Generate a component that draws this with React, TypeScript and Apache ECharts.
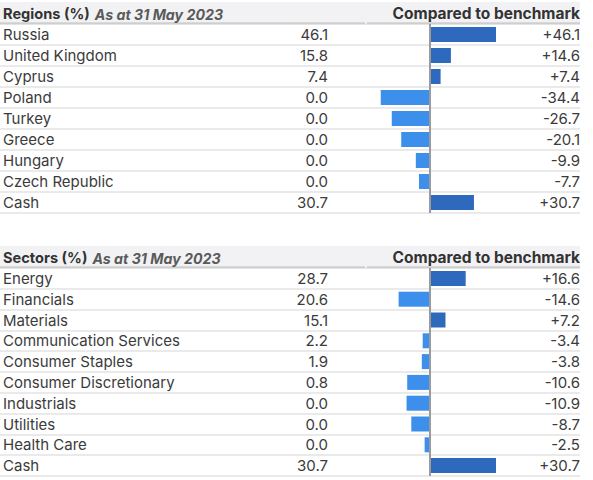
import React, { useEffect, useRef } from 'react';
import * as echarts from 'echarts';

const regionNames = ['Russia', 'United Kingdom', 'Cyprus', 'Poland', 'Turkey', 'Greece', 'Hungary', 'Czech Republic', 'Cash'];
const regionWeights = [46.1, 15.8, 7.4, 0.0, 0.0, 0.0, 0.0, 0.0, 30.7];
const regionRelative = [46.1, 14.6, 7.4, -34.4, -26.7, -20.1, -9.9, -7.7, 30.7];

const sectorNames = [
  'Energy',
  'Financials',
  'Materials',
  'Communication Services',
  'Consumer Staples',
  'Consumer Discretionary',
  'Industrials',
  'Utilities',
  'Health Care',
  'Cash',
];
const sectorWeights = [28.7, 20.6, 15.1, 2.2, 1.9, 0.8, 0.0, 0.0, 0.0, 30.7];
const sectorRelative = [16.6, -14.6, 7.2, -3.4, -3.8, -10.6, -10.9, -8.7, -2.5, 30.7];

const headerDate = 'As at 31 May 2023';
const headerRight = 'Compared to benchmark';

const FONT = 'Inter, "Liberation Sans", Arial, sans-serif';
const TEXT = '#3b3b3b';
const POS = '#2d69bc';
const NEG = '#3d8fec';

// layout (px, page coords)
const W = 593;
const TABLE_RIGHT = 580;
const ZERO_X = 430;
const BAR_MAX_PX = 66; // largest |value| of each table spans this
const LABEL_PAD = [6, 0, 0, 0]; // nudge row text a little below the row centre

function signed(v: number) {
  return (v > 0 ? '+' : '') + v.toFixed(1);
}

function buildTable(idx: number, names: string[], weights: number[], rel: number[], top: number, height: number) {
  const maxAbs = Math.max(...rel.map((v) => Math.abs(v)));
  const unit = maxAbs / BAR_MAX_PX;
  const grid = { left: 0, right: W - TABLE_RIGHT, top, height, containLabel: false };
  const xAxis = {
    type: 'value',
    gridIndex: idx,
    min: -ZERO_X * unit,
    max: (TABLE_RIGHT - ZERO_X) * unit,
    show: false,
  };
  const common = {
    type: 'category',
    gridIndex: idx,
    data: names,
    inverse: true,
    axisLine: { show: false },
    axisTick: { show: false },
  };
  const labelBase = { interval: 0, color: TEXT, fontFamily: FONT, fontSize: 15, padding: LABEL_PAD };
  const yAxes = [
    {
      ...common,
      position: 'left',
      axisLabel: { ...labelBase, inside: true, margin: 3, align: 'left' },
      splitLine: { show: true, lineStyle: { color: '#e3e3e3', width: 1.5 } },
    },
    {
      ...common,
      position: 'left',
      offset: -328,
      axisLabel: { ...labelBase, margin: 0, align: 'right', formatter: (_v: string, i: number) => weights[i].toFixed(1) },
      splitLine: { show: false },
    },
    {
      ...common,
      position: 'right',
      axisLabel: { ...labelBase, inside: true, margin: 0, align: 'right', formatter: (_v: string, i: number) => signed(rel[i]) },
      splitLine: { show: false },
    },
  ];
  const series = {
    type: 'bar',
    xAxisIndex: idx,
    yAxisIndex: idx * 3,
    data: rel,
    barWidth: 15,
    itemStyle: {
      color: (p: any) => (p.value >= 0 ? POS : NEG),
    },
    markLine: {
      silent: true,
      symbol: 'none',
      label: { show: false },
      lineStyle: { color: '#9b9b9b', width: 2, type: 'solid' },
      data: [{ xAxis: 0 }],
    },
  };
  return { grid, xAxis, yAxes, series };
}

function headerGraphics(top: number) {
  const lineY = top + 21.5;
  return [
    { type: 'rect', left: 0, top, shape: { x: 0, y: 0, width: TABLE_RIGHT, height: 21 }, style: { fill: '#f2f2f4' }, silent: true },
    { type: 'line', shape: { x1: 0, y1: lineY, x2: 365, y2: lineY }, style: { stroke: '#8e8e8e', lineWidth: 1.5 }, silent: true },
    { type: 'line', shape: { x1: 367, y1: lineY, x2: TABLE_RIGHT, y2: lineY }, style: { stroke: '#8e8e8e', lineWidth: 1.5 }, silent: true },
  ];
}

function headerTitles(label: string, top: number) {
  return [
    {
      text: `{b|${label}} {i|${headerDate}}`,
      left: 3,
      top,
      padding: 0,
      textStyle: {
        rich: {
          b: { fontFamily: FONT, fontSize: 14.6, fontWeight: 'bold', color: '#333' },
          i: { fontFamily: FONT, fontSize: 14.2, fontWeight: 'bold', fontStyle: 'italic', color: '#5a5a5a' },
        },
      },
    },
    {
      text: headerRight,
      right: W - TABLE_RIGHT,
      top,
      padding: 0,
      textStyle: { fontFamily: FONT, fontSize: 15.5, fontWeight: 'bold', color: '#333' },
    },
  ];
}

export default function App() {
  const ref = useRef<HTMLDivElement | null>(null);

  useEffect(() => {
    if (!ref.current) return;
    const chart = echarts.init(ref.current, undefined, { renderer: 'svg' });
    const t1 = buildTable(0, regionNames, regionWeights, regionRelative, 24, 189);
    const t2 = buildTable(1, sectorNames, sectorWeights, sectorRelative, 268, 208);
    chart.setOption({
      animation: false,
      backgroundColor: '#ffffff',
      title: [...headerTitles('Regions (%)', 5), ...headerTitles('Sectors (%)', 249)],
      graphic: { elements: [...headerGraphics(2), ...headerGraphics(246)] },
      grid: [t1.grid, t2.grid],
      xAxis: [t1.xAxis, t2.xAxis],
      yAxis: [...t1.yAxes, ...t2.yAxes],
      series: [t1.series, t2.series],
    });
    return () => chart.dispose();
  }, []);

  return <div ref={ref} style={{ position: 'absolute', left: 0, top: 0, width: 593, height: 480 }} />;
}
